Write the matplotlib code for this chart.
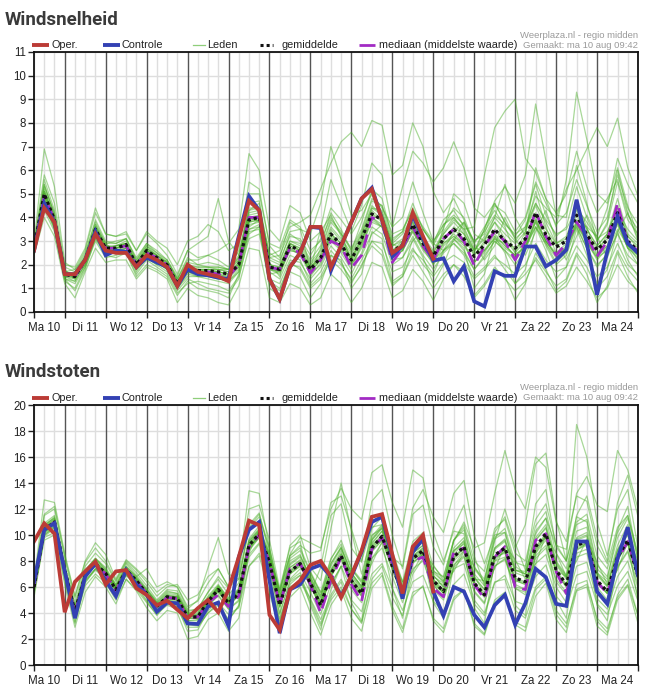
import matplotlib
matplotlib.use('Agg')
import matplotlib.pyplot as plt
from matplotlib.lines import Line2D
import numpy as np

# ---------------- data ----------------
STEP_H = 6                      # hours between forecast steps, first step = Ma 10 06:00
day_labels = ['Ma 10', 'Di 11', 'Wo 12', 'Do 13', 'Vr 14', 'Za 15', 'Zo 16', 'Ma 17',
              'Di 18', 'Wo 19', 'Do 20', 'Vr 21', 'Za 22', 'Zo 23', 'Ma 24']

# Windsnelheid (top)
oper_top = [2.6, 4.4, 3.8, 1.6, 1.6, 2.2, 3.3, 2.6, 2.5, 2.5,
            1.9, 2.4, 2.2, 1.9, 1.1, 2.0, 1.7, 1.6, 1.5, 1.3,
            3.1, 4.7, 4.3, 1.4, 0.55, 1.9, 2.5, 3.6, 3.6, 1.9,
            2.8, 3.8, 4.8, 5.2, 3.9, 2.5, 2.8, 4.2, 3.2, 2.25]
ctrl_top = [2.6, 4.6, 3.8, 1.6, 1.6, 2.2, 3.4, 2.4, 2.6, 2.55,
            1.9, 2.3, 2.1, 1.9, 1.1, 1.8, 1.6, 1.55, 1.45, 1.4,
            3.2, 4.9, 4.3, 1.4, 0.55, 1.9, 2.5, 3.6, 3.55, 1.75,
            2.8, 3.8, 4.8, 5.25, 3.9, 2.35, 2.8, 4.1, 3.1, 2.17,
            2.27, 1.3, 1.93, 0.45, 0.24, 1.72, 1.53, 1.53, 2.77, 2.77,
            1.93, 2.2, 2.63, 4.75, 2.9, 0.73, 2.56, 4.04, 2.9, 2.5]
mean_top = [2.7, 5.0, 3.9, 1.6, 1.5, 2.2, 3.5, 2.7, 2.7, 2.85,
            2.0, 2.6, 2.3, 2.0, 1.2, 1.8, 1.75, 1.75, 1.7, 1.6,
            2.0, 3.9, 4.0, 1.9, 1.8, 2.8, 2.6, 1.8, 2.3, 3.3,
            2.85, 2.2, 3.1, 4.15, 3.9, 2.55, 2.85, 3.7, 2.9, 2.37,
            3.1, 3.5, 3.1, 2.35, 2.85, 3.5, 3.0, 2.7, 3.1, 4.2,
            3.27, 2.75, 3.0, 4.1, 3.27, 2.63, 3.05, 4.2, 3.0, 2.6]
median_top = [2.7, 4.9, 3.9, 1.6, 1.5, 2.2, 3.4, 2.7, 2.7, 2.8,
              2.0, 2.5, 2.3, 2.0, 1.2, 1.8, 1.7, 1.7, 1.6, 1.5,
              2.0, 4.0, 4.0, 1.9, 1.8, 2.7, 2.5, 1.65, 2.2, 3.0,
              2.8, 1.86, 2.4, 4.0, 3.8, 2.1, 2.7, 3.6, 2.8, 2.2,
              3.1, 3.5, 3.0, 1.96, 2.8, 3.4, 3.0, 2.2, 3.0, 4.25,
              3.2, 2.4, 2.9, 3.8, 3.2, 2.35, 3.0, 4.6, 2.9, 2.6]
members_top = [
    [2.8,5.6,4.3,1.8,1.4,2.4,3.9,3.0,2.9,3.1, 2.2,2.9,2.6,2.2,1.4,2.3,2.0,2.1,2.0,1.8, 2.4,4.6,4.7,2.3,2.1,3.3,3.0,2.2,2.8,4.2, 3.5,2.6,3.8,5.2,4.8,3.1,3.4,4.6,3.5,2.9, 3.9,4.3,3.6,2.6,3.5,4.6,3.8,3.2,3.9,5.4, 4.1,3.2,3.6,5.3,4.0,3.0,3.7,5.5,3.9,3.3],
    [2.5,4.3,3.4,1.3,1.0,1.9,3.0,2.3,2.4,2.5, 1.6,2.2,1.9,1.6,0.8,1.2,1.3,1.2,1.1,0.9, 1.5,3.1,3.3,1.3,1.0,2.0,1.9,1.1,1.5,2.4, 2.0,1.4,2.2,3.0,2.9,1.7,1.9,2.7,2.0,1.5, 2.1,2.4,2.1,1.4,1.8,2.3,2.0,1.6,2.0,2.9, 2.2,1.7,1.9,2.8,2.2,1.5,1.9,2.9,2.0,1.6],
    [2.9,6.9,5.3,2.1,1.8,2.6,4.2,3.3,3.2,3.4, 2.6,3.3,2.9,2.4,1.6,2.6,2.3,2.4,2.2,1.9, 2.6,5.5,5.2,2.8,2.3,3.8,3.5,1.8,3.5,5.6, 4.5,3.4,4.5,6.3,5.8,3.6,4.0,5.5,4.2,3.0, 3.5,5.0,4.6,3.3,3.0,4.0,5.4,4.0,3.2,6.1, 4.8,3.6,5.6,9.3,7.3,5.0,4.6,6.1,4.5,3.2],
    [2.6,4.8,3.6,1.5,1.7,2.1,3.3,2.5,2.6,2.7, 1.8,2.5,2.1,1.8,1.0,1.7,1.5,1.6,1.5,1.3, 1.7,3.6,3.9,1.6,1.7,2.7,2.4,1.6,2.0,3.0, 2.6,2.0,2.7,4.0,3.6,2.3,2.6,3.4,2.7,2.2, 2.9,3.2,2.9,2.1,2.5,3.2,2.8,2.4,2.7,3.9, 3.0,2.4,2.7,3.8,3.0,2.2,2.7,3.7,2.7,2.4],
    [2.7,5.2,4.0,1.7,1.5,2.3,3.6,2.8,2.8,3.0, 2.1,2.7,2.4,2.1,1.3,1.9,1.8,1.8,1.8,1.7, 2.2,4.2,4.3,2.4,2.6,3.6,3.8,4.1,5.2,6.3, 7.2,7.6,7.0,8.1,7.9,5.8,6.2,8.0,7.0,5.1, 4.2,4.8,3.9,2.7,2.6,3.1,2.9,2.3,2.8,3.6, 2.9,2.1,2.5,3.7,2.9,2.3,2.6,3.5,2.8,2.2],
    [2.6,4.9,3.8,1.6,1.4,2.2,3.4,2.6,2.7,2.8, 2.0,2.6,2.3,1.9,1.1,1.8,1.7,1.7,1.6,1.4, 1.9,4.0,3.8,1.7,1.4,2.4,2.2,1.2,1.7,2.6, 2.1,1.3,1.9,3.0,2.6,1.2,1.5,2.4,1.7,1.0, 1.6,2.0,1.5,0.7,1.2,1.9,1.4,0.9,1.3,2.3, 1.7,1.1,1.4,2.5,1.9,1.0,1.5,2.6,1.8,1.3],
    [2.8,5.1,3.9,1.5,1.6,2.2,3.5,2.7,2.6,2.8, 1.9,2.5,2.2,2.0,1.2,1.9,1.8,1.7,1.7,1.6, 2.1,3.8,4.1,1.8,1.6,2.6,2.5,1.9,2.2,3.1, 2.8,2.3,3.0,4.2,3.8,2.6,3.0,3.6,3.1,2.5, 3.3,3.9,3.5,3.6,5.8,7.8,8.5,9.0,6.5,5.9, 4.8,4.2,5.0,6.8,5.3,4.2,4.8,5.6,4.1,3.5],
    [2.6,4.7,3.7,1.7,1.8,2.3,3.3,2.6,2.8,2.9, 2.0,2.7,2.3,1.9,1.2,1.7,1.6,1.8,1.8,1.7, 2.0,3.7,3.8,2.0,1.9,3.0,2.8,2.0,2.5,3.6, 3.1,2.5,3.3,4.5,4.1,2.9,3.3,4.1,3.2,2.6, 3.4,4.0,3.5,2.6,3.2,4.0,3.5,3.0,3.6,4.9, 4.4,4.0,5.2,6.0,6.9,7.8,7.0,8.2,6.1,4.9],
    [2.4,4.0,3.2,1.2,0.6,1.7,2.7,2.1,2.2,2.2, 1.4,1.9,1.7,1.4,0.4,1.0,0.7,0.6,0.4,0.3, 1.1,2.7,2.6,0.6,0.4,1.2,1.0,0.3,0.6,1.6, 1.2,0.4,1.0,2.1,1.9,0.6,0.9,1.8,1.3,0.5, 1.4,2.0,1.7,0.6,1.1,1.8,1.5,0.5,1.2,2.5, 1.8,0.9,1.3,2.4,1.6,0.4,1.1,2.5,1.5,0.8],
    [2.7,5.4,4.1,1.4,1.3,2.0,3.7,2.9,2.5,2.7, 1.8,2.3,2.0,2.2,1.5,2.6,2.9,3.2,4.8,3.0, 2.4,4.3,4.6,2.1,1.5,2.9,2.7,1.5,2.1,3.4, 2.5,1.8,2.9,4.4,4.3,2.9,2.6,3.9,3.0,2.0, 3.6,4.4,4.0,2.9,3.6,4.3,3.6,2.5,3.4,5.1, 3.6,2.5,2.9,4.6,3.6,2.4,3.3,4.8,3.3,2.9],
    [2.8,5.3,4.2,1.9,1.7,2.5,3.8,2.9,3.0,3.1, 2.3,2.9,2.5,2.1,1.3,2.0,1.9,1.9,1.9,1.8, 2.3,4.4,4.4,2.5,2.2,3.2,3.1,2.4,3.1,4.4, 3.9,3.3,4.0,5.0,4.4,3.6,5.3,6.8,6.3,5.5, 6.1,7.2,6.1,4.4,4.0,4.6,3.8,3.1,3.5,4.6, 3.8,2.9,3.1,4.3,3.5,2.8,3.3,4.4,3.2,2.7],
    [2.6,4.6,3.6,1.5,1.4,2.0,3.2,2.6,2.6,2.6, 1.9,2.4,2.2,1.8,1.0,1.5,1.5,1.5,1.4,1.3, 1.8,3.5,3.7,1.8,1.9,2.9,2.6,1.7,2.7,3.9, 3.4,2.1,2.4,3.3,3.7,2.2,2.3,3.0,3.5,2.9, 2.6,3.0,3.8,2.9,2.2,2.8,4.0,3.1,2.4,3.4, 4.3,3.0,2.2,3.2,4.1,3.2,2.3,3.4,4.2,3.1],
    [2.7,5.0,3.9,1.6,1.5,2.1,3.5,2.8,2.7,2.9, 2.0,2.6,2.4,2.0,1.2,1.8,1.8,1.7,1.7,1.6, 2.0,4.0,4.0,1.9,1.8,2.8,2.6,1.8,2.3,3.3, 2.9,2.2,3.2,4.3,3.9,2.5,2.8,3.8,2.9,2.3, 3.0,3.6,3.3,2.5,3.5,4.7,5.3,4.6,5.8,8.8, 6.4,4.1,4.0,6.2,4.6,3.0,3.8,6.0,4.2,3.0],
    [2.7,5.1,4.0,1.7,1.6,2.4,3.7,2.7,2.8,2.9, 2.1,2.8,2.4,2.1,1.4,2.2,2.2,2.4,2.6,2.9, 3.5,6.7,6.0,3.5,3.0,4.5,4.2,3.0,3.4,4.1, 3.2,2.2,3.0,4.0,3.7,2.3,2.6,3.5,2.7,2.0, 2.6,3.1,2.6,1.8,2.3,3.0,2.6,2.0,2.6,3.8, 2.8,2.0,2.4,3.6,2.7,1.9,2.5,3.8,2.7,2.0],
    [2.5,4.5,3.5,1.5,1.3,2.0,3.1,2.5,2.5,2.6, 1.8,2.3,2.1,1.8,1.0,1.6,1.5,1.4,1.3,1.2, 1.7,3.4,3.5,1.4,1.2,2.2,2.1,1.4,1.9,2.8, 2.3,1.6,2.5,3.6,3.3,2.0,2.3,3.2,2.4,1.8, 2.5,2.9,2.5,1.8,2.4,3.0,2.6,2.2,2.7,3.6, 2.9,2.3,2.7,3.9,3.6,3.2,4.4,6.5,5.4,4.6],
    [2.7,5.0,3.9,1.6,1.6,2.3,3.5,2.7,2.7,2.8, 2.0,2.6,2.3,2.0,1.2,1.9,1.8,1.8,1.7,1.6, 2.0,3.9,4.0,1.9,1.8,2.8,2.6,1.9,2.3,3.3, 2.9,2.3,3.1,4.1,3.9,2.6,2.9,3.7,3.0,2.4, 3.1,3.5,3.1,2.4,2.9,3.5,3.0,2.7,3.1,4.2, 3.3,2.8,3.0,4.1,3.3,2.7,3.1,4.2,3.0,2.6],
    [2.5,4.6,3.5,1.4,1.2,1.9,3.2,2.5,2.5,2.6, 1.7,2.3,2.0,1.7,0.9,1.4,1.2,1.0,0.9,0.8, 1.4,3.3,3.6,1.2,0.9,2.1,1.8,1.0,1.4,2.2, 1.8,1.2,2.0,2.8,2.4,1.1,1.5,2.6,2.2,1.6, 2.6,3.4,3.8,3.0,3.3,4.5,4.2,3.4,4.0,5.5, 4.6,3.7,4.2,5.6,4.5,3.4,4.0,5.8,4.4,3.7],
    [2.9,5.8,4.6,2.0,1.9,2.7,4.4,3.3,3.2,3.3, 2.6,3.4,3.0,2.7,2.0,3.0,3.2,3.7,3.4,2.6, 2.9,5.0,5.0,2.9,2.7,3.9,3.6,2.6,3.0,4.0, 3.3,2.7,3.5,4.8,4.5,3.3,3.5,4.3,3.6,3.0, 3.7,4.1,3.7,3.0,3.4,4.1,3.7,3.3,3.6,4.6, 3.9,3.3,3.5,4.4,3.8,3.1,3.4,4.3,3.5,3.0],
    [2.6,4.5,3.6,1.4,0.9,1.8,3.1,2.4,2.3,2.5, 1.5,2.0,1.8,1.5,0.7,1.3,1.0,0.9,0.8,0.6, 1.6,3.5,3.6,1.0,0.7,1.7,1.5,0.6,1.2,2.4, 2.2,1.0,1.6,3.4,3.1,1.3,1.6,3.1,2.3,1.2, 2.0,3.1,2.7,1.0,1.6,3.2,2.5,1.2,1.8,3.6, 2.6,1.4,1.9,3.5,2.4,1.2,1.8,3.4,2.2,1.5],
    [2.8,5.4,4.1,1.7,1.5,2.3,3.6,2.9,2.9,3.1, 2.2,2.8,2.5,2.2,1.4,2.1,2.0,1.9,1.8,1.8, 2.3,4.3,4.4,2.2,2.0,3.0,2.9,2.1,2.6,3.8, 3.3,2.6,3.4,4.7,4.5,3.0,3.4,4.4,3.5,2.8, 3.7,4.0,3.4,2.4,3.0,3.8,3.1,2.5,3.0,4.0, 3.0,2.4,2.8,3.6,2.7,2.0,2.4,3.3,2.4,2.0],
    [2.7,5.1,4.0,1.6,1.5,2.2,3.5,2.8,2.7,2.9, 2.1,2.6,2.3,2.0,1.3,1.8,1.8,1.8,1.7,1.6, 2.1,4.0,4.1,2.0,1.9,2.9,2.7,1.9,2.4,3.5, 3.0,2.4,3.3,4.4,4.1,2.8,3.1,4.0,3.1,2.5, 3.3,3.8,3.3,2.6,3.1,3.8,3.3,2.9,3.4,4.5, 3.5,2.9,3.2,4.4,3.5,2.8,3.3,4.5,3.2,2.8],
    [2.6,4.8,3.7,1.6,1.5,2.1,3.3,2.6,2.6,2.7, 1.9,2.5,2.2,1.9,1.1,1.7,1.6,1.6,1.6,1.5, 1.9,3.8,3.9,1.8,1.7,2.6,2.5,1.7,2.2,3.2, 2.7,2.1,2.9,3.9,3.6,2.4,2.7,3.5,2.7,2.2, 2.6,2.9,2.4,1.5,1.9,2.4,1.8,1.2,1.6,2.2, 1.5,0.8,1.1,1.9,1.3,0.6,1.0,2.0,1.3,0.9],
    [2.7,5.0,3.9,1.7,1.6,2.3,3.6,2.7,2.8,2.9, 2.0,2.7,2.4,2.0,1.3,1.9,1.9,1.9,1.9,1.8, 2.2,4.1,4.2,2.3,2.4,3.4,3.5,3.3,4.6,7.0, 5.6,4.1,4.3,5.0,4.2,2.8,3.0,3.8,2.9,2.3, 2.9,3.3,2.9,2.1,2.6,3.3,2.8,2.4,2.8,3.9, 3.0,2.4,2.7,3.8,3.0,2.3,2.8,3.9,2.8,2.4],
    [2.6,4.9,3.8,1.5,1.5,2.2,3.4,2.6,2.7,2.8, 1.9,2.5,2.2,1.9,1.1,1.7,1.7,1.7,1.6,1.5, 1.9,3.8,3.9,1.8,1.7,2.7,2.5,1.7,2.2,3.1, 2.7,2.0,2.8,3.8,3.6,2.3,2.6,3.4,2.6,2.1, 2.8,3.2,2.8,2.1,2.6,3.1,2.7,2.4,2.8,3.8, 3.0,2.5,2.7,3.7,3.0,2.4,2.8,3.8,2.7,2.3],
]

# Windstoten (bottom)
oper_bot = [9.5, 10.9, 10.1, 4.06, 6.4, 7.2, 7.95, 6.2, 7.2, 7.3,
            5.9, 5.4, 4.6, 4.95, 4.25, 3.6, 4.37, 5.0, 4.06, 5.8,
            8.3, 11.1, 10.75, 3.86, 2.7, 5.8, 6.5, 7.7, 8.0, 6.8,
            5.2, 6.9, 8.8, 11.4, 11.6, 8.5, 5.5, 9.1, 10.0, 5.65]
ctrl_bot = [6.4, 10.4, 10.9, 7.2, 3.6, 6.8, 7.8, 6.5, 5.3, 7.3,
            6.2, 5.4, 4.1, 4.8, 4.75, 3.2, 3.15, 4.5, 4.8, 3.0,
            8.3, 10.4, 11.0, 6.5, 2.45, 5.8, 6.2, 7.4, 7.7, 6.8,
            5.3, 6.8, 8.7, 11.0, 11.4, 8.3, 5.1, 8.7, 9.7, 5.65,
            3.8, 6.0, 5.65, 3.86, 2.9, 4.6, 5.4, 3.1, 4.75, 7.4,
            6.75, 4.7, 4.55, 9.5, 9.5, 5.65, 4.7, 8.2, 10.6, 6.9]
mean_bot = [6.0, 10.4, 11.0, 7.3, 4.1, 6.9, 7.8, 7.05, 5.8, 7.3,
            6.5, 5.5, 4.5, 5.25, 5.1, 3.7, 3.7, 4.9, 5.8, 4.75,
            5.5, 9.2, 10.1, 7.9, 4.6, 7.2, 7.8, 6.3, 4.6, 7.0,
            8.4, 6.5, 5.5, 9.0, 9.9, 7.6, 5.5, 8.2, 8.8, 6.5,
            5.65, 8.3, 9.1, 6.3, 5.4, 8.45, 9.0, 6.7, 6.4, 9.1,
            10.1, 7.3, 6.2, 9.2, 9.5, 6.5, 5.65, 8.3, 9.6, 6.8]
median_bot = [6.0, 10.3, 11.0, 7.3, 4.0, 6.9, 7.8, 7.0, 5.7, 7.3,
              6.5, 5.5, 4.5, 5.2, 5.1, 3.6, 3.7, 4.8, 5.4, 4.5,
              5.3, 9.1, 10.0, 7.9, 4.6, 7.4, 7.8, 6.2, 4.0, 6.5,
              8.3, 6.2, 4.9, 8.9, 9.8, 7.8, 5.5, 8.0, 8.3, 5.9,
              5.25, 8.7, 9.0, 6.2, 5.1, 8.3, 9.1, 6.0, 5.8, 9.6,
              10.1, 7.2, 5.5, 9.3, 9.5, 6.4, 5.5, 8.1, 9.5, 6.9]
members_bot = [
    [6.3,11.5,12.0,8.2,4.8,7.6,8.6,7.8,6.4,7.9, 7.1,6.1,5.0,5.8,5.7,4.2,4.3,5.6,6.6,5.4, 6.3,10.5,11.4,8.9,5.3,8.2,8.8,7.1,5.4,8.1, 9.6,7.5,6.5,10.5,11.4,8.8,6.4,9.5,10.2,7.6, 6.7,9.6,10.6,7.4,6.4,9.8,10.5,7.9,7.6,10.7, 11.8,8.6,7.4,10.8,11.2,7.7,6.8,9.8,11.3,8.1],
    [5.5,9.6,10.0,6.5,3.3,6.1,7.0,6.3,5.0,6.6, 5.8,4.8,3.9,4.6,4.3,2.9,2.9,4.0,4.8,3.9, 4.4,7.6,8.6,6.6,3.6,5.9,6.5,5.1,3.5,5.4, 6.6,5.0,4.1,7.0,7.8,5.9,4.2,6.4,6.9,4.9, 4.1,6.2,7.0,4.7,3.8,6.3,6.9,4.9,4.6,6.8, 7.7,5.3,4.4,6.9,7.2,4.7,3.9,6.1,7.2,4.9],
    [6.5,12.7,12.5,8.6,5.3,8.0,9.4,8.5,6.6,8.1, 7.4,6.6,5.6,6.2,6.0,4.5,4.9,6.3,7.4,6.0, 7.0,12.0,12.3,9.6,5.9,9.0,9.5,5.5,7.5,11.5, 12.4,9.0,7.9,12.6,13.5,10.0,7.4,11.6,12.3,9.1, 7.7,10.6,12.3,8.4,6.1,9.5,12.0,9.4,7.3,12.4, 13.5,9.1,8.0,18.5,16.0,11.0,8.4,12.0,13.5,9.0],
    [6.0,10.2,10.8,7.1,4.0,6.8,7.7,7.0,5.7,7.2, 6.4,5.4,4.4,5.1,5.0,3.6,3.6,4.8,5.6,4.6, 5.3,8.9,9.8,7.7,4.4,7.0,7.6,6.1,4.4,6.8, 8.1,6.3,5.3,8.8,9.6,7.4,5.3,7.9,8.5,6.3, 5.5,8.0,8.8,6.1,5.2,8.2,8.7,6.5,6.2,8.8, 9.8,7.1,6.0,8.9,9.2,6.3,5.5,8.1,9.3,6.6],
    [6.1,10.6,11.2,7.5,4.2,7.0,7.9,7.2,5.9,7.4, 6.6,5.6,4.6,5.4,5.2,3.8,3.8,5.0,5.9,4.9, 5.7,9.4,10.3,8.3,5.8,8.5,9.8,9.4,9.0,12.0, 13.6,12.0,11.2,14.8,15.4,12.5,10.6,15.0,14.4,10.2, 8.0,10.3,10.1,6.8,5.5,8.3,8.6,6.2,5.8,8.4, 9.2,6.6,5.6,8.6,8.9,6.0,5.0,7.6,8.8,6.2],
    [5.8,10.3,10.9,7.2,4.0,6.8,7.7,6.9,5.7,7.2, 6.4,5.4,4.3,5.0,4.9,3.4,3.5,4.6,5.3,4.3, 5.0,9.1,9.8,7.3,3.9,6.4,6.9,5.0,3.2,5.2, 6.4,4.3,3.2,6.3,7.1,4.5,2.8,5.6,6.0,3.6, 2.8,5.2,5.8,3.2,2.4,5.0,5.6,3.3,2.9,5.8, 6.6,3.9,2.9,6.2,6.5,3.4,2.5,5.4,6.6,3.8],
    [6.0,10.4,10.9,7.3,4.1,6.9,7.8,7.1,5.8,7.3, 6.5,5.5,4.5,5.3,5.1,3.7,3.8,4.9,5.8,4.7, 5.4,9.0,10.0,7.8,4.7,7.2,7.8,6.4,4.8,7.2, 8.5,6.6,5.7,9.2,10.0,7.8,5.8,8.4,9.0,6.8, 6.3,9.5,11.0,9.0,9.4,13.2,16.5,13.5,12.0,16.0, 15.2,11.0,9.5,13.0,12.6,9.2,7.8,10.6,11.5,8.4],
    [5.9,10.1,10.7,7.4,4.3,7.1,7.6,7.0,6.0,7.1, 6.6,5.6,4.6,5.1,5.3,3.9,3.6,5.0,6.0,4.8, 5.6,9.3,10.2,8.0,4.8,7.5,8.0,6.5,4.8,7.3, 8.6,6.9,5.9,9.3,10.3,7.9,5.9,8.6,9.2,6.9, 6.0,8.8,9.5,6.8,5.8,9.0,9.7,7.3,7.2,10.1, 11.3,9.2,8.9,13.2,14.5,12.3,11.8,16.5,15.0,12.0],
    [5.2,9.8,10.2,6.2,2.9,5.6,6.8,6.0,4.7,6.6, 5.7,4.4,3.4,4.2,4.0,2.0,2.2,3.5,4.0,2.6, 3.6,7.6,8.4,5.6,2.6,5.2,6.0,4.0,2.3,4.6, 5.8,3.6,2.6,5.9,6.9,4.2,2.5,5.3,6.1,3.4, 2.5,5.0,5.8,3.0,2.3,4.8,5.5,3.1,2.6,5.3, 6.3,3.5,2.5,5.7,6.0,3.0,2.3,5.0,6.1,3.2],
    [6.2,10.8,11.3,7.0,4.5,7.2,8.2,7.4,6.1,7.6, 6.8,7.4,6.0,6.4,6.0,4.3,5.0,7.5,9.8,7.0, 6.6,10.8,11.7,8.5,5.0,8.0,8.5,6.6,5.2,7.8, 9.0,7.1,6.0,9.6,10.6,8.1,6.0,8.9,9.4,7.2, 6.8,9.6,10.4,7.5,6.6,9.7,10.2,7.3,7.0,10.3, 11.3,8.0,6.9,10.3,10.6,7.1,6.4,9.2,10.8,7.6],
    [6.2,10.7,11.4,7.6,4.4,7.2,8.1,7.3,6.1,7.6, 6.8,5.8,4.8,5.5,5.4,4.0,4.0,5.2,6.1,5.0, 5.8,9.6,10.5,8.3,5.1,7.7,8.3,6.8,5.3,7.8, 9.1,7.0,6.1,9.6,10.5,8.3,7.6,12.1,13.5,11.4, 10.2,13.2,14.2,10.0,7.8,10.0,10.2,7.6,7.0,9.8, 10.8,7.9,6.8,9.8,10.2,7.1,6.1,8.9,10.2,7.3],
    [5.9,10.0,10.6,7.6,4.6,6.5,7.4,7.2,6.2,6.9, 6.2,5.8,4.8,4.9,5.3,4.0,3.5,4.6,6.1,5.2, 5.1,8.6,10.4,8.6,5.4,6.6,7.4,7.0,5.6,6.2, 7.6,7.4,6.3,7.8,9.5,8.4,6.4,7.2,8.6,7.7, 6.5,7.2,8.7,7.6,6.3,7.4,9.2,8.1,6.6,7.8, 10.0,8.6,6.8,8.0,9.7,7.9,6.2,7.3,9.5,8.1],
    [6.1,10.5,11.1,7.4,4.2,7.0,7.9,7.1,5.9,7.4, 6.6,5.6,4.6,5.3,5.2,3.8,3.8,5.0,5.9,4.8, 5.6,9.3,10.2,8.0,4.7,7.3,7.9,6.4,4.7,7.1, 8.5,6.6,5.6,9.1,10.0,7.7,5.6,8.3,8.9,6.6, 5.8,8.5,9.4,6.6,6.5,10.2,11.4,9.0,10.8,15.5, 16.3,11.2,8.0,11.4,11.0,7.4,6.6,10.4,12.2,8.0],
    [6.1,10.7,11.3,7.6,4.3,7.3,8.2,7.3,6.0,7.5, 6.7,5.8,4.8,5.6,5.5,4.1,4.3,5.6,6.8,5.9, 7.2,13.4,13.2,9.0,5.6,9.2,10.0,7.5,6.5,10.5, 14.0,10.3,7.0,10.0,10.5,7.8,5.7,8.1,8.6,6.2, 5.2,7.7,8.4,5.7,4.8,7.6,8.1,5.9,5.6,8.2, 9.0,6.4,5.4,8.3,8.6,5.7,4.9,7.5,8.7,5.9],
    [5.6,9.9,10.5,7.0,3.8,6.5,7.4,6.7,5.5,7.0, 6.2,5.2,4.2,5.0,4.8,3.4,3.4,4.5,5.4,4.3, 4.9,8.5,9.4,7.2,4.0,6.5,7.1,5.6,3.9,6.2, 7.6,5.8,4.8,8.2,9.0,6.8,4.8,7.4,8.0,5.8, 5.0,7.5,8.3,5.6,4.7,7.6,8.2,6.0,5.8,8.6, 9.6,7.3,6.8,11.5,13.0,9.8,8.0,12.5,14.6,11.4],
    [6.0,10.4,11.0,7.3,4.1,6.9,7.8,7.0,5.8,7.3, 6.5,5.5,4.5,5.2,5.1,3.7,3.7,4.9,5.8,4.7, 5.5,9.2,10.1,7.9,4.6,7.2,7.8,6.3,4.6,7.0, 8.4,6.5,5.5,9.0,9.9,7.6,5.5,8.2,8.8,6.5, 5.6,8.3,9.1,6.3,5.4,8.4,9.0,6.7,6.4,9.1, 10.1,7.3,6.2,9.2,9.5,6.5,5.6,8.3,9.6,6.8],
    [5.7,10.0,10.6,6.9,3.7,6.4,7.3,6.6,5.4,6.9, 6.1,5.0,4.0,4.7,4.5,3.1,3.0,4.0,4.6,3.5, 4.5,8.3,9.3,6.6,3.4,6.0,6.5,4.8,3.0,5.0, 6.0,4.3,3.3,6.6,7.6,5.2,3.8,7.0,8.2,6.4, 6.2,9.6,10.8,8.0,7.2,10.5,11.2,8.6,8.0,11.2, 12.4,9.3,8.0,11.0,11.6,8.4,7.4,10.2,11.5,8.6],
    [6.4,11.6,12.2,8.4,5.2,7.9,9.0,8.0,6.5,8.0, 7.3,6.4,5.3,6.0,6.2,5.0,5.4,6.8,7.4,6.0, 6.6,10.6,11.6,9.0,5.6,8.4,9.0,7.2,5.6,8.2, 9.3,7.4,6.4,9.9,10.8,8.4,6.3,9.0,9.6,7.3, 6.4,9.0,9.8,7.0,6.1,9.0,9.6,7.3,7.0,9.6, 10.5,7.8,6.7,9.6,9.9,7.0,6.1,8.8,10.0,7.2],
    [5.8,10.2,10.7,6.8,3.2,6.3,7.4,6.6,5.2,7.0, 6.0,4.9,3.8,4.8,4.5,2.6,2.7,4.2,4.9,3.4, 4.6,8.8,9.8,6.4,3.2,6.2,6.9,4.6,2.7,5.8, 7.6,4.8,3.4,8.2,9.4,5.9,3.6,7.8,8.6,4.8, 3.6,7.6,8.8,4.4,3.2,8.0,8.8,4.6,3.8,8.6, 10.0,5.0,3.6,8.8,9.4,4.6,3.4,8.0,9.5,4.9],
    [6.2,10.9,11.5,7.6,4.4,7.3,8.2,7.5,6.2,7.8, 6.9,5.9,4.9,5.7,5.5,4.0,4.1,5.3,6.2,5.1, 5.9,9.7,10.7,8.5,5.2,7.8,8.4,6.8,5.1,7.6, 9.0,7.1,6.0,9.7,10.7,8.3,6.1,8.9,9.5,7.1, 6.4,8.8,9.3,6.4,5.3,8.0,8.3,5.9,5.4,7.8, 8.5,6.0,4.8,7.6,7.9,5.1,4.3,6.8,8.0,5.3],
    [6.1,10.6,11.2,7.5,4.3,7.1,8.0,7.2,6.0,7.5, 6.7,5.7,4.7,5.4,5.3,3.9,3.9,5.1,6.0,4.9, 5.7,9.5,10.4,8.2,4.9,7.5,8.1,6.6,4.9,7.3, 8.8,6.8,5.8,9.4,10.3,8.0,5.8,8.6,9.2,6.9, 6.0,8.7,9.6,6.7,5.8,8.9,9.5,7.1,6.8,9.6, 10.6,7.7,6.6,9.7,10.0,6.9,6.0,8.8,10.1,7.2],
    [5.9,10.3,10.9,7.2,4.0,6.8,7.7,6.9,5.7,7.2, 6.4,5.4,4.4,5.1,5.0,3.6,3.6,4.8,5.7,4.6, 5.4,9.0,9.9,7.7,4.5,7.0,7.6,6.1,4.5,6.8, 8.2,6.3,5.3,8.7,9.6,7.3,5.3,7.9,8.5,6.2, 5.2,7.4,7.8,5.0,4.0,6.4,6.6,4.2,3.6,6.0, 6.8,4.2,3.2,5.8,6.2,3.6,2.8,5.2,6.2,3.8],
    [6.0,10.5,11.1,7.4,4.2,7.0,7.9,7.1,5.9,7.4, 6.6,5.6,4.6,5.3,5.2,3.8,3.9,5.1,6.0,5.0, 5.8,9.5,10.4,8.4,5.6,8.4,9.2,8.6,8.8,12.5, 13.0,10.5,8.0,10.6,10.8,8.0,5.8,8.4,9.0,6.6, 5.6,8.2,9.0,6.2,5.3,8.3,8.9,6.5,6.2,8.9, 9.9,7.1,6.0,9.0,9.3,6.3,5.5,8.1,9.4,6.6],
    [5.9,10.3,10.9,7.2,4.0,6.8,7.7,7.0,5.7,7.2, 6.4,5.4,4.4,5.2,5.0,3.6,3.6,4.8,5.7,4.6, 5.4,9.1,10.0,7.8,4.5,7.1,7.7,6.2,4.5,6.9, 8.3,6.4,5.4,8.9,9.8,7.5,5.4,8.1,8.7,6.4, 5.5,8.2,9.0,6.2,5.3,8.3,8.9,6.6,6.3,9.0, 10.0,7.2,6.1,9.1,9.4,6.4,5.5,8.2,9.5,6.7],
]

# ---------------- style ----------------
W, H = 668, 695
RED = '#bb3b36'
BLUE = '#3341b3'
GREEN = '#4aae28'
PURPLE = '#a22bc4'
TXT = '#222222'
GREY_TXT = '#9a9a9a'
FONT = 'Liberation Sans'

plt.rcParams['font.family'] = [FONT, 'DejaVu Sans']

fig = plt.figure(figsize=(W / 100, H / 100), dpi=100)
fig.patch.set_facecolor('white')


def fx(x):
    return x / W


def fy(y):
    return 1 - y / H


def panel(top_px, bottom_px, ymax, ystep, members, oper, ctrl, mean, med, title, title_base):
    left_px, right_px = 34, 638
    ax = fig.add_axes([fx(left_px), fy(bottom_px), (right_px - left_px) / W, (bottom_px - top_px) / H])
    n = len(mean)
    t_end = (n - 1) * STEP_H
    hours = np.arange(n) * STEP_H

    # grid
    for h in np.arange(0, t_end + 1, STEP_H):
        if (h - 18) % 24 == 0:
            ax.axvline(h, color='#555555', lw=1.0, zorder=1)
        else:
            ax.axvline(h, color='#dedede', lw=1.0, zorder=0)
    for v in range(0, ymax + 1, ystep):
        ax.axhline(v, color='#dedede', lw=1.0, zorder=0)

    # members
    for m in members:
        ax.plot(hours, m, color=GREEN, lw=0.9, alpha=0.48, zorder=2)
    ax.plot(hours, med, color=PURPLE, lw=2.0, ls=(0, (5, 2.5)), zorder=4)
    ax.plot(hours, mean, color='#111111', lw=2.3, ls=(0, (1, 1)), zorder=5)
    ax.plot(hours[:len(ctrl)], ctrl, color=BLUE, lw=2.7, zorder=6, solid_joinstyle='miter')
    ax.plot(hours[:len(oper)], oper, color=RED, lw=2.7, zorder=7, solid_joinstyle='miter')

    ax.set_xlim(0, t_end)
    ax.set_ylim(0, ymax)
    ax.set_yticks(range(0, ymax + 1, ystep))
    ax.tick_params(axis='y', length=4, width=1, pad=1.5, labelsize=8.3, colors=TXT)

    noon = [6 + 24 * k for k in range(len(day_labels))]
    ax.set_xticks(noon)
    ax.set_xticklabels(day_labels)
    ax.tick_params(axis='x', which='major', length=0, pad=7, labelsize=8.3, colors=TXT)
    mid = [0] + [18 + 24 * k for k in range(15) if 18 + 24 * k <= t_end]
    ax.set_xticks(mid, minor=True)
    ax.tick_params(axis='x', which='minor', length=4, width=1, color='#222222')

    for s in ax.spines.values():
        s.set_color('#111111')
        s.set_linewidth(1.3)
        s.set_zorder(8)

    # title
    fig.text(fx(5), fy(title_base), title, fontsize=13.5, family=['Roboto', 'DejaVu Sans'],
             fontweight='bold', color='#3a3a3a', va='baseline', ha='left')

    # legend row
    ly = top_px - 7
    def swatch(x0, x1, **kw):
        fig.add_artist(Line2D([fx(x0), fx(x1)], [fy(ly), fy(ly)], transform=fig.transFigure, **kw))
    swatch(32, 49, color=RED, lw=2.8, solid_capstyle='butt')
    swatch(103, 120, color=BLUE, lw=2.8, solid_capstyle='butt')
    swatch(193, 205, color='#8fce7a', lw=0.9)
    swatch(260, 273, color='#111111', lw=2.2, ls=(0, (1, 1)))
    swatch(359, 375, color=PURPLE, lw=2.0, ls=(0, (7, 3, 1, 3)))
    for x, s in [(51, 'Oper.'), (122, 'Controle'), (207, 'Leden'), (281, 'gemiddelde'),
                 (379, 'mediaan (middelste waarde)')]:
        fig.text(fx(x), fy(ly), s, fontsize=7.8, color=TXT, va='center', ha='left')
    fig.text(fx(638), fy(ly - 10), 'Weerplaza.nl - regio midden', fontsize=6.8, color=GREY_TXT,
             va='center', ha='right')
    fig.text(fx(638), fy(ly), 'Gemaakt: ma 10 aug 09:42', fontsize=6.8, color=GREY_TXT,
             va='center', ha='right')
    return ax


for lst in members_top + members_bot:
    assert len(lst) == 60, len(lst)

panel(52, 312, 11, 1, members_top, oper_top, ctrl_top, mean_top, median_top, 'Windsnelheid', 25)
panel(405, 665, 20, 2, members_bot, oper_bot, ctrl_bot, mean_bot, median_bot, 'Windstoten', 377)

fig.savefig('out.png', dpi=100, facecolor='white')
